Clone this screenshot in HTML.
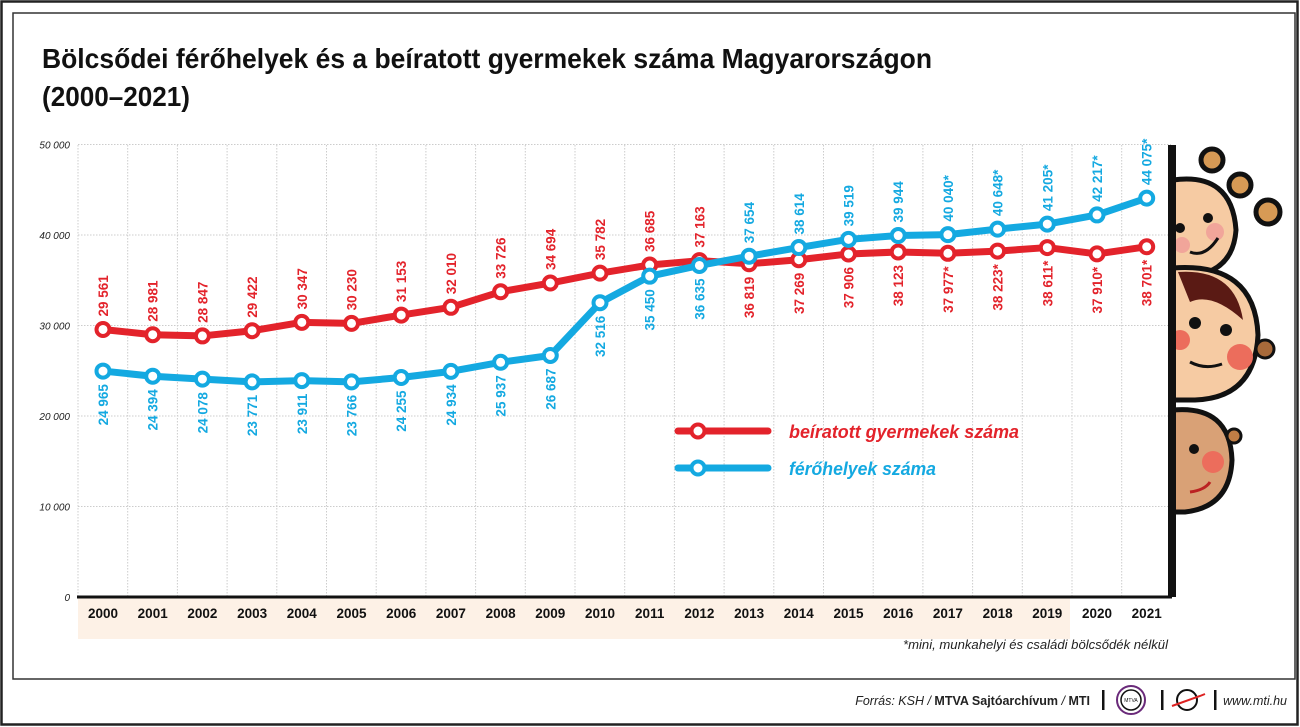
<!DOCTYPE html>
<html><head><meta charset="utf-8"><style>
html,body{margin:0;padding:0;background:#fff;}
svg{display:block;font-family:"Liberation Sans",sans-serif;}
</style></head><body>
<svg id="s" width="1300" height="727" viewBox="0 0 1300 727" xmlns="http://www.w3.org/2000/svg">
<rect x="1.5" y="1.5" width="1296" height="723" fill="#fff" stroke="#222" stroke-width="2.5"/>
<rect x="13" y="13" width="1282" height="666" fill="#fff" stroke="#333" stroke-width="1.5"/>
<text x="42" y="68" font-size="28" font-weight="bold" fill="#111" textLength="890" lengthAdjust="spacingAndGlyphs">Bölcsődei férőhelyek és a beíratott gyermekek száma Magyarországon</text>
<text x="42" y="106" font-size="28" font-weight="bold" fill="#111" textLength="148" lengthAdjust="spacingAndGlyphs">(2000–2021)</text>
<rect x="78" y="598" width="992" height="41" fill="#fdf1e6"/>
<g id="grid"></g>
<line x1="77" y1="597" x2="1172" y2="597" stroke="#111" stroke-width="3"/>
<g id="years" font-size="13.5" font-weight="bold" fill="#111" text-anchor="middle"></g>
<g id="series"></g>
<g id="labels" font-size="13.5" font-weight="bold"></g>
<line x1="678" y1="431" x2="768" y2="431" stroke="#e3232b" stroke-width="7" stroke-linecap="round"/>
<circle cx="698" cy="431" r="6.5" fill="#fff" stroke="#e3232b" stroke-width="4"/>
<text x="789" y="438" font-size="18" font-weight="bold" font-style="italic" fill="#e3232b" textLength="230" lengthAdjust="spacingAndGlyphs">beíratott gyermekek száma</text>
<line x1="678" y1="468" x2="768" y2="468" stroke="#14a9e1" stroke-width="7" stroke-linecap="round"/>
<circle cx="698" cy="468" r="6.5" fill="#fff" stroke="#14a9e1" stroke-width="4"/>
<text x="789" y="475" font-size="18" font-weight="bold" font-style="italic" fill="#14a9e1" textLength="147" lengthAdjust="spacingAndGlyphs">férőhelyek száma</text>
<text x="1168" y="649" font-size="13" font-style="italic" fill="#222" text-anchor="end" textLength="265" lengthAdjust="spacingAndGlyphs">*mini, munkahelyi és családi bölcsődék nélkül</text>
<g>
<circle cx="1212" cy="160" r="11" fill="#d79a55" stroke="#111" stroke-width="5"/>
<circle cx="1240" cy="185" r="11" fill="#d79a55" stroke="#111" stroke-width="5"/>
<circle cx="1268" cy="212" r="12" fill="#d79a55" stroke="#111" stroke-width="5"/>
<path d="M1173 180 Q1232 172 1236 230 Q1233 272 1190 276 L1173 276 Z" fill="#f6cba3" stroke="#111" stroke-width="5"/>
<path d="M1173 268 Q1255 262 1258 335 Q1255 398 1195 400 L1173 400 Z" fill="#f6cba3" stroke="#111" stroke-width="5"/>
<path d="M1178 272 Q1235 268 1243 320 Q1212 292 1190 302 Z" fill="#5a1a14"/>
<circle cx="1265" cy="349" r="9" fill="#a86a3a" stroke="#111" stroke-width="3"/>
<path d="M1173 410 Q1230 405 1232 460 Q1230 507 1185 512 L1173 512 Z" fill="#d9a176" stroke="#111" stroke-width="5"/>
<circle cx="1234" cy="436" r="7" fill="#c07d45" stroke="#111" stroke-width="3"/>
<circle cx="1180" cy="228" r="5" fill="#111"/><circle cx="1208" cy="218" r="5" fill="#111"/>
<circle cx="1195" cy="323" r="6" fill="#111"/><circle cx="1226" cy="330" r="6" fill="#111"/>
<circle cx="1240" cy="357" r="13" fill="#ec6d5c"/><circle cx="1180" cy="340" r="10" fill="#ec6d5c"/>
<circle cx="1215" cy="232" r="9" fill="#f1a59a"/><circle cx="1182" cy="245" r="8" fill="#f1a59a"/>
<circle cx="1194" cy="449" r="5" fill="#111"/><circle cx="1213" cy="462" r="11" fill="#ec6d5c"/>
<path d="M1190 252 Q1205 258 1218 238" stroke="#111" stroke-width="3" fill="none"/>
<path d="M1190 362 Q1205 370 1222 364" stroke="#111" stroke-width="3" fill="none"/>
<path d="M1190 492 Q1205 490 1210 482" stroke="#b22" stroke-width="3" fill="none"/>
<rect x="1168" y="145" width="8" height="452" fill="#111"/>
</g>
<text x="1090" y="705" font-size="12.5" fill="#222" text-anchor="end"><tspan font-style="italic">Forrás: KSH / </tspan><tspan font-weight="bold">MTVA Sajtóarchívum</tspan><tspan font-style="italic"> / </tspan><tspan font-weight="bold">MTI</tspan></text>
<rect x="1102" y="690" width="2.5" height="20" fill="#111"/>
<circle cx="1131" cy="700" r="14" fill="#fff" stroke="#6a2a7a" stroke-width="2"/>
<circle cx="1131" cy="700" r="10" fill="#fff" stroke="#111" stroke-width="1.5"/>
<text x="1131" y="702" font-size="5" text-anchor="middle" fill="#111">MTVA</text>
<rect x="1161" y="690" width="2.5" height="20" fill="#111"/>
<circle cx="1187" cy="700" r="10" fill="none" stroke="#111" stroke-width="2"/>
<path d="M1172 706 L1200 696 L1205 694" stroke="#d22" stroke-width="2" fill="none"/>
<rect x="1214" y="690" width="2.5" height="20" fill="#111"/>
<text x="1287" y="705" font-size="12.5" font-style="italic" fill="#222" text-anchor="end">www.mti.hu</text>
</svg>
<script>
var NS="http://www.w3.org/2000/svg";
function el(p,t,a,txt){var e=document.createElementNS(NS,t);for(var k in a)e.setAttribute(k,a[k]);if(txt!=null)e.textContent=txt;document.getElementById(p).appendChild(e);return e;}
var X=function(i){return 103+i*49.7;}, Y=function(v){return 597-v*0.00905;};
for(var i=0;i<=22;i++){var x=78+i*49.7;el("grid","line",{x1:x,y1:145,x2:x,y2:597,stroke:"#ccc","stroke-width":1,"stroke-dasharray":"1.5,1.5"});}
for(var v=10000;v<=50000;v+=10000){el("grid","line",{x1:78,y1:Y(v),x2:1171,y2:Y(v),stroke:"#ccc","stroke-width":1,"stroke-dasharray":"1.5,1.5"});}
for(var v=0;v<=50000;v+=10000){var s=v==0?"0":(v/1000)+" 000";el("grid","text",{x:70,y:Y(v)+4,"font-size":10,"font-style":"italic","text-anchor":"end",fill:"#222"},s);}
for(var i=0;i<22;i++)el("years","text",{x:X(i),y:618},String(2000+i));
var R=[29561,28981,28847,29422,30347,30230,31153,32010,33726,34694,35782,36685,37163,36819,37269,37906,38123,37977,38223,38611,37910,38701];
var B=[24965,24394,24078,23771,23911,23766,24255,24934,25937,26687,32516,35450,36635,37654,38614,39519,39944,40040,40648,41205,42217,44075];
function fmt(v,i){var s=String(v);return s.slice(0,2)+" "+s.slice(2)+(i>=17?"*":"");}
function series(d,c){var p=d.map(function(v,i){return X(i)+","+Y(v)}).join(" ");
el("series","polyline",{points:p,fill:"none",stroke:c,"stroke-width":7,"stroke-linejoin":"round"});
d.forEach(function(v,i){el("series","circle",{cx:X(i),cy:Y(v),r:6.5,fill:"#fff",stroke:c,"stroke-width":4});});}
series(R,"#e3232b");series(B,"#14a9e1");
function lab(d,c,aboveFn){d.forEach(function(v,i){var x=X(i)+5,y=Y(v);var up=aboveFn(i);
var ay=up?y-13:y+13;el("labels","text",{x:0,y:0,fill:c,"text-anchor":up?"start":"end",transform:"translate("+x+","+ay+") rotate(-90)"},fmt(v,i));});}
lab(R,"#e3232b",function(i){return i<=12;});
lab(B,"#14a9e1",function(i){return i>12;});
</script>
</body></html>
